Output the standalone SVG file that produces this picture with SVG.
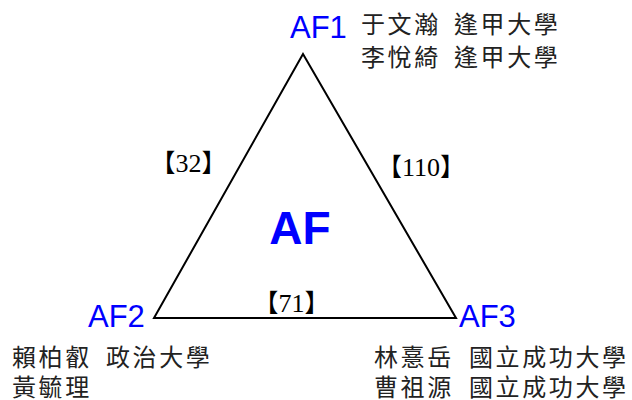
<svg xmlns="http://www.w3.org/2000/svg" width="632" height="400" viewBox="0 0 632 400">
<style>
.lbl{font-family:"Liberation Sans",Arial,sans-serif;fill:#0000ff;font-size:31px}
.big{font-family:"Liberation Sans",Arial,sans-serif;fill:#0000ff;font-size:46px;font-weight:bold}
.cjk{font-family:"Noto Sans CJK TC","Noto Sans CJK SC",sans-serif;fill:#222;font-size:24px;letter-spacing:2.6px}
.num{font-family:"Liberation Serif","Noto Sans CJK TC",serif;fill:#000;font-size:26px}
.br{font-family:"Noto Sans CJK TC","Noto Sans CJK SC",sans-serif;font-size:25px}
.edge{fill:none;stroke:#000;stroke-width:2;stroke-linejoin:miter}
</style>
<rect width="632" height="400" fill="#fff"/>
<g id="connectors">
<polygon class="edge" points="303,54 154,318 456,318"/>
<text class="num" x="188.5" y="172" text-anchor="middle"><tspan class="br">【</tspan>32<tspan class="br">】</tspan></text>
<text class="num" x="421" y="176" text-anchor="middle"><tspan class="br">【</tspan>110<tspan class="br">】</tspan></text>
<text class="num" x="291.5" y="312" text-anchor="middle"><tspan class="br">【</tspan>71<tspan class="br">】</tspan></text>
</g>
<g id="AF">
<text class="big" x="300" y="244" text-anchor="middle">AF</text>
</g>
<g id="AF1">
<text class="lbl" x="290" y="38">AF1</text>
<text class="cjk" y="33"><tspan x="361">于文瀚</tspan><tspan x="454">逢甲大學</tspan></text>
<text class="cjk" y="66"><tspan x="361">李悅綺</tspan><tspan x="454">逢甲大學</tspan></text>
</g>
<g id="AF2">
<text class="lbl" x="88" y="327">AF2</text>
<text class="cjk" y="366"><tspan x="12">賴柏叡</tspan><tspan x="106">政治大學</tspan></text>
<text class="cjk" y="396"><tspan x="12">黃毓理</tspan></text>
</g>
<g id="AF3">
<text class="lbl" x="459" y="327">AF3</text>
<text class="cjk" y="366"><tspan x="374">林憙岳</tspan><tspan x="469">國立成功大學</tspan></text>
<text class="cjk" y="396"><tspan x="374">曹祖源</tspan><tspan x="469">國立成功大學</tspan></text>
</g>
</svg>
